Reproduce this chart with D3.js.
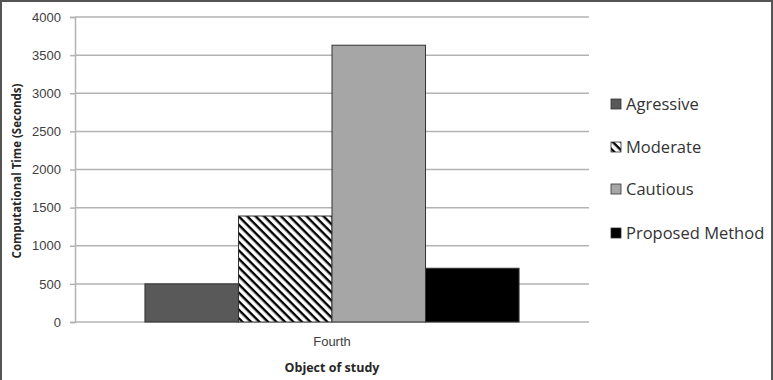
<!DOCTYPE html>
<html>
<head>
<meta charset="utf-8">
<script src="https://d3js.org/d3.v7.min.js"></script>
<style>
  body { margin: 0; background: #fff; }
  svg { display: block; font-family: "Open Sans", "DejaVu Sans", sans-serif; }
  .grid line { stroke: #b3b3b3; stroke-width: 1.5px; }
  .tick text { fill: #404040; font-size: 13px; }
</style>
</head>
<body>
<svg width="773" height="380"></svg>
<script>
// data
var categories = ["Fourth"];
var series = ["Agressive", "Moderate", "Cautious", "Proposed Method"];
var values = [500, 1390, 3630, 705];
var yTicks = [0, 500, 1000, 1500, 2000, 2500, 3000, 3500, 4000];

var fills = ["#595959", "url(#hatch)", "#a6a6a6", "#000000"];

var svg = d3.select("svg");
var margin = {left: 75, right: 184, top: 17, bottom: 58};
var width = 773 - margin.left - margin.right,
    height = 380 - margin.top - margin.bottom;

// frame
svg.append("path")
    .attr("d", "M1,380 V1 H772 V380")
    .attr("fill", "none")
    .attr("stroke", "#555")
    .attr("stroke-width", 2);

var defs = svg.append("defs");
var pat = defs.append("pattern")
    .attr("id", "hatch")
    .attr("patternUnits", "userSpaceOnUse")
    .attr("width", 6).attr("height", 6)
    .attr("patternTransform", "rotate(45)");
pat.append("rect").attr("width", 6).attr("height", 6).attr("fill", "#fff");
pat.append("rect").attr("width", 6).attr("height", 2.4).attr("fill", "#000");

var g = svg.append("g").attr("transform", "translate(" + margin.left + "," + margin.top + ")");

var y = d3.scaleLinear().domain([0, 4000]).range([height, 0]);
var x0 = d3.scaleBand().domain(categories).range([0, width]).paddingInner(0).paddingOuter(0.187);
var x1 = d3.scaleBand().domain(series).range([0, x0.bandwidth()]);

// gridlines
g.append("g").attr("class", "grid")
    .selectAll("line").data(yTicks).enter().append("line")
    .attr("x1", 0).attr("x2", width)
    .attr("y1", function(d) { return y(d); })
    .attr("y2", function(d) { return y(d); });

// y axis
var yAxis = g.append("g")
    .call(d3.axisLeft(y).tickValues(yTicks).tickFormat(d3.format("d")).tickSize(5).tickPadding(9));
yAxis.select(".domain").attr("stroke", "#b3b3b3").attr("stroke-width", 1.5);
yAxis.selectAll(".tick line").attr("stroke", "#b3b3b3").attr("stroke-width", 1.5);

// bars
g.selectAll("rect.bar")
    .data(series.map(function(s, i) { return {cat: categories[0], s: s, v: values[i], f: fills[i]}; }))
    .enter().append("rect")
    .attr("class", "bar")
    .attr("x", function(d) { return x0(d.cat) + x1(d.s); })
    .attr("width", x1.bandwidth())
    .attr("y", function(d) { return y(d.v); })
    .attr("height", function(d) { return y(0) - y(d.v); })
    .attr("fill", function(d) { return d.f; })
    .attr("stroke", "#333")
    .attr("stroke-width", 1);

// x category label
g.append("g")
    .attr("transform", "translate(0," + height + ")")
    .call(d3.axisBottom(x0).tickSize(0).tickPadding(15))
    .call(function(a) { a.select(".domain").remove(); });

// axis titles
svg.append("text")
    .attr("x", x0("Fourth") + margin.left + x0.bandwidth() / 2)
    .attr("y", 372)
    .attr("text-anchor", "middle")
    .attr("font-size", 12.5).attr("font-weight", "bold").attr("fill", "#262626")
    .text("Object of study");

svg.append("text")
    .attr("transform", "translate(21,171) rotate(-90)")
    .attr("text-anchor", "middle")
    .attr("font-size", 11.5).attr("font-weight", "bold").attr("fill", "#262626")
    .text("Computational Time (Seconds)");

// legend
var legY = [104, 147, 189, 233];
var leg = svg.append("g").selectAll("g").data(series).enter().append("g")
    .attr("transform", function(d, i) { return "translate(611," + legY[i] + ")"; });
leg.append("rect")
    .attr("x", 0).attr("y", -5).attr("width", 10).attr("height", 10)
    .attr("fill", function(d, i) { return fills[i]; })
    .attr("stroke", "#333").attr("stroke-width", 0.8);
leg.append("text")
    .attr("x", 15).attr("y", 6)
    .attr("font-size", 16.5).attr("fill", "#333")
    .text(function(d) { return d; });
</script>
</body>
</html>
